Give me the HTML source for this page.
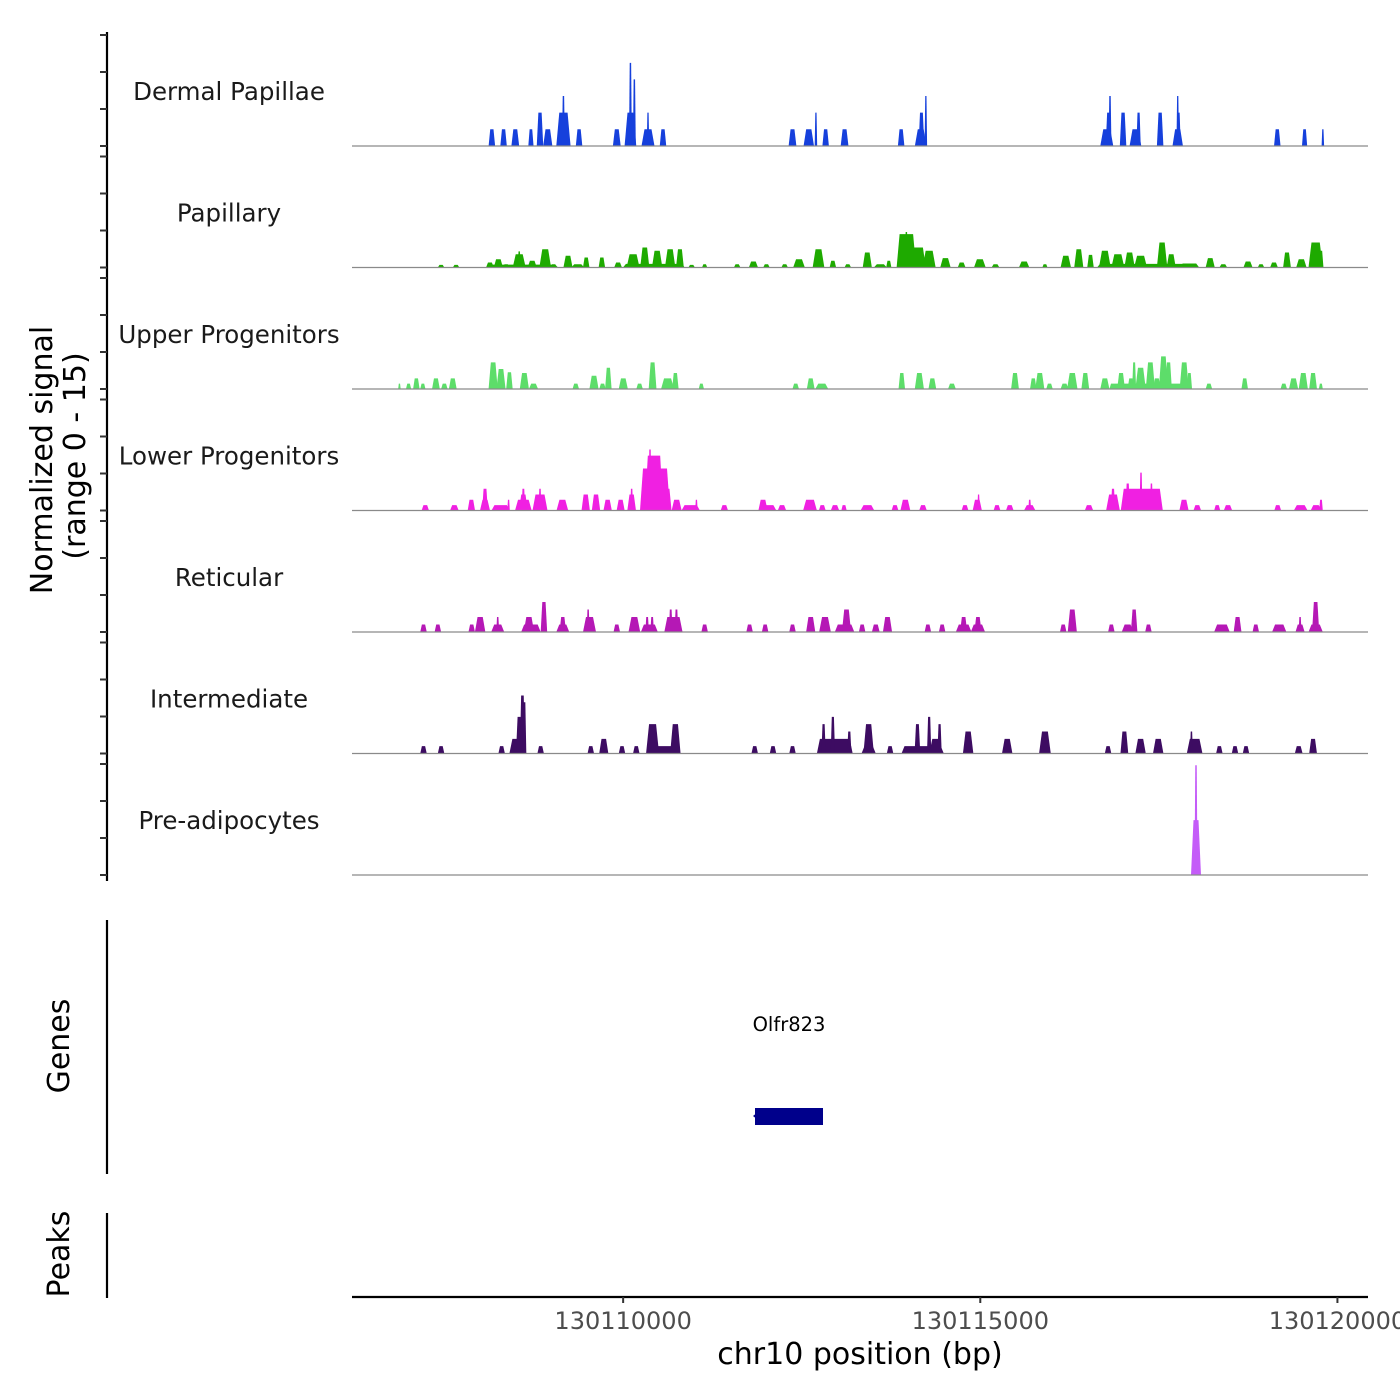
<!DOCTYPE html>
<html><head><meta charset="utf-8">
<style>
html,body{margin:0;padding:0;background:#fff;}
svg{display:block;font-family:"DejaVu Sans","Liberation Sans",sans-serif;}
</style></head>
<body>
<svg id="chart" width="1400" height="1400" viewBox="0 0 1400 1400" xmlns="http://www.w3.org/2000/svg">
<g id="tracks"></g>
<g id="axes">
  <line x1="107" y1="32" x2="107" y2="881" stroke="#000" stroke-width="2.2"/>
  <line x1="107" y1="920" x2="107" y2="1174" stroke="#000" stroke-width="2.2"/>
  <line x1="107" y1="1213" x2="107" y2="1298" stroke="#000" stroke-width="2.2"/>
  <line x1="352" y1="1297" x2="1368" y2="1297" stroke="#000" stroke-width="2.2"/>
  <text transform="translate(52,460) rotate(-90)" text-anchor="middle" font-size="30" fill="#000">Normalized signal</text>
  <text transform="translate(85,456) rotate(-90)" text-anchor="middle" font-size="30" fill="#000">(range 0 - 15)</text>
  <text transform="translate(69,1046) rotate(-90)" text-anchor="middle" font-size="30" fill="#000">Genes</text>
  <text transform="translate(69,1254) rotate(-90)" text-anchor="middle" font-size="30" fill="#000">Peaks</text>
  <text x="860" y="1364" text-anchor="middle" font-size="30" fill="#000">chr10 position (bp)</text>
</g>
<g id="genes"></g>
</svg>
<script>
const regionStart = 130106176;
const xTicks = [130110000, 130115000, 130120000];
const trackNames = ["Dermal Papillae","Papillary","Upper Progenitors","Lower Progenitors","Reticular","Intermediate","Pre-adipocytes"];
const trackColors = ["#1640dc","#1eaa00","#5ddd6a","#f020e2","#b518b5","#3d0c62","#c45cf8"];
// [offset bp from regionStart, width bp, signal]
const dermal = [[1986,91,2.07],[2150,91,2.07],[2314,109,2.07],[2533,73,2.07],[2660,91,4.13],[2769,128,2.07],[2988,200,4.13],[2988,40,6.2],[3207,91,2.07],[3735,109,2.07],[3926,164,4.13],[3926,40,10.3],[3981,40,8.26],[4172,182,2.07],[4172,30,4.13],[4382,91,2.07],[6195,109,2.07],[6423,146,2.07],[6523,30,4.13],[6659,91,2.07],[6924,109,2.07],[7716,91,2.07],[7990,164,2.07],[8000,80,4.13],[8062,30,6.2],[10595,182,2.07],[10620,80,4.13],[10640,40,6.2],[10823,91,4.13],[10996,164,2.07],[11040,60,4.13],[11342,91,4.13],[11588,146,2.07],[11600,60,4.13],[11588,30,6.2],[12982,91,2.07],[13364,73,2.07],[13620,18,2.07]];
const papillary = [[2414,1000,.35],[4254,865,.45],[11151,1385,.45],[1275,91,.33],[1485,91,.33],[1959,109,.62],[2077,128,1.03],[2186,91,.41],[2369,182,1.65],[2369,40,2.0],[2551,128,.83],[2733,164,2.27],[2851,91,.41],[3052,128,1.45],[3189,182,.41],[3307,91,1.24],[3526,91,1.24],[3753,109,.62],[3963,182,1.65],[4127,128,2.48],[4300,146,2.07],[4482,146,2.27],[4619,109,2.27],[4783,91,.33],[4965,73,.41],[5420,91,.41],[5648,128,.74],[5830,91,.41],[6085,91,.41],[6286,164,1.03],[6559,164,2.27],[6760,91,.83],[6969,91,.41],[7242,128,1.86],[7425,182,.41],[7543,73,.83],[7789,273,4.13],[7789,40,4.4],[7926,273,2.48],[8108,182,2.07],[8336,146,1.16],[8563,109,.62],[8818,164,1.03],[9037,109,.41],[9438,146,.74],[9729,73,.41],[10021,146,1.45],[10203,128,2.27],[10367,91,1.57],[10568,164,2.07],[10750,182,1.65],[10914,146,1.86],[11068,182,1.45],[11369,146,3.1],[11497,128,1.65],[11752,273,.5],[12043,128,1.16],[12226,109,.41],[12572,128,.74],[12754,91,.41],[12936,109,.62],[13118,109,1.86],[13319,146,1.03],[13519,200,3.1],[13592,73,2.07]];
const upperProg = [[11205,1093,.66],[692,18,.66],[820,73,.66],[929,91,1.32],[1020,73,.66],[1203,109,1.32],[1321,91,.66],[1439,109,1.32],[2004,128,3.3],[2114,128,2.48],[2232,91,2.07],[2441,128,1.98],[2569,128,.66],[3161,91,.66],[3416,128,1.65],[3535,91,.66],[3617,91,2.64],[3826,128,1.32],[4054,91,.66],[4236,109,3.3],[4446,182,1.32],[4555,91,1.98],[4919,73,.66],[6240,91,.66],[6450,109,1.32],[6605,182,.66],[7725,91,1.98],[7971,128,1.98],[8153,109,1.32],[8427,109,.66],[9310,109,1.98],[9566,91,1.32],[9657,128,1.98],[9793,91,.66],[10003,109,.66],[10112,146,1.98],[10294,109,1.98],[10568,128,1.32],[10677,91,.66],[10795,109,1.98],[10932,91,1.32],[10978,55,3.3],[11068,146,2.64],[11205,128,3.3],[11296,109,1.32],[11388,128,4.05],[11460,91,3.3],[11679,128,3.3],[11752,73,1.98],[12025,91,.66],[12526,91,1.32],[13073,91,.66],[13210,128,1.32],[13346,128,1.98],[13483,109,1.98],[13592,55,.66]];
const lowerProg = [[1054,103,.66],[1461,121,.66],[1699,103,1.33],[1890,140,1.33],[1890,80,2.69],[2109,257,.66],[2220,30,1.33],[2427,233,1.33],[2427,120,1.98],[2427,50,2.69],[2660,210,1.98],[2660,40,2.69],[2973,163,1.33],[3300,117,1.98],[3444,117,1.98],[3607,117,1.33],[3789,112,1.33],[3943,121,1.98],[3943,40,2.69],[4270,420,5.2],[4256,257,6.8],[4200,40,7.56],[4443,117,2.69],[4573,140,1.33],[4770,257,.66],[4850,30,1.33],[5241,103,.66],[5782,129,1.33],[5862,214,.66],[6048,118,.66],[6440,193,1.33],[6612,96,.66],[6790,118,.66],[6916,75,.66],[7244,193,.66],[7630,96,.66],[7775,139,1.33],[8022,107,.66],[8610,96,.66],[8782,129,1.33],[8800,30,1.98],[9058,96,.66],[9237,107,.66],[9516,161,.66],[9516,40,1.33],[10346,118,.66],[10682,193,1.98],[10682,60,2.69],[11085,589,2.69],[10888,60,3.35],[11074,40,4.7],[11220,40,3.35],[11676,129,1.33],[11862,107,.66],[12141,86,.66],[12292,118,.66],[12988,96,.66],[13310,193,.66],[13524,150,.66],[13594,50,1.33]];
const reticular = [[1029,91,.93],[1230,91,.93],[1704,91,.93],[1822,146,1.86],[2068,182,.93],[2068,40,1.86],[2533,273,.93],[2505,146,1.86],[2715,91,3.72],[2979,182,.93],[2979,91,1.86],[3353,182,1.86],[3334,40,2.79],[3735,91,.93],[3981,164,1.86],[4191,237,.93],[4160,50,1.86],[4230,50,1.86],[4528,255,1.86],[4490,50,2.79],[4570,50,2.79],[4965,91,.93],[5594,91,.93],[5812,91,.93],[6195,91,.93],[6450,128,1.86],[6650,164,1.86],[6924,273,.93],[6951,128,2.79],[7170,91,.93],[7361,109,.93],[7525,128,1.86],[8090,91,.93],[8290,91,.93],[8591,219,.93],[8591,100,1.86],[8791,200,.93],[8791,100,1.86],[9985,91,.93],[10112,128,2.79],[10659,91,.93],[10886,164,.93],[10978,91,2.79],[11178,91,.93],[12207,219,.93],[12426,109,1.86],[12681,91,.93],[13009,200,.93],[13301,128,.93],[13301,40,1.86],[13519,200,.93],[13519,100,3.72]];
const intermediate = [[1029,91,.91],[1275,91,.91],[2123,91,.91],[2350,237,1.82],[2369,91,4.54],[2414,73,7.19],[2441,55,6.36],[2669,91,.91],[3371,91,.91],[3553,128,1.82],[3808,91,.91],[4008,91,.91],[4391,364,.91],[4236,182,3.64],[4555,146,3.64],[5666,91,.91],[5922,91,.91],[6195,91,.91],[6787,501,1.82],[6630,60,3.64],[6760,60,4.54],[6990,60,2.73],[7261,146,3.64],[7261,200,.91],[7561,91,.91],[8017,592,.91],[7944,80,3.64],[8108,60,4.54],[8254,60,3.64],[8200,180,1.82],[8654,146,2.73],[9201,146,1.82],[9729,164,2.73],[10613,91,.91],[10841,109,2.73],[11068,146,1.82],[11315,146,1.82],[11825,219,1.82],[11780,40,2.73],[12171,91,.91],[12390,91,.91],[12544,91,.91],[13282,109,.91],[13483,109,1.82]];
const preAdipo = [[11844,140,6.8],[11844,42,13.6]];
const trackData = [dermal,papillary,upperProg,lowerProg,reticular,intermediate,preAdipo];
const geneName = ["Olfr823"];
const geneStart = [130111846];
const geneEnd = [130112798];

const NS = "http://www.w3.org/2000/svg";
const X0 = 352, X1 = 1368;
const bpPerPx = 14.0;
const xScale = bp => 350 + (bp - regionStart) / bpPerPx;
const firstBase = 146, trackStep = 121.5, pxPerUnit = 121 / 15;
const baseY = i => firstBase + i * trackStep;
const yScale = (i, v) => baseY(i) - v * pxPerUnit;

function mk(tag, attrs, parent) {
  const e = document.createElementNS(NS, tag);
  for (const k in attrs) e.setAttribute(k, attrs[k]);
  parent.appendChild(e);
  return e;
}
const tracks = document.getElementById('tracks');
const axes = document.getElementById('axes');
trackNames.forEach((name, i) => {
  const g = mk('g', {}, tracks);
  
  
  trackData[i].forEach(p => {
    const c = xScale(regionStart + p[0]);
    const w = Math.max(p[1] / bpPerPx, 2.5);
    const r = Math.min(w * 0.25, 3);
    const y = yScale(i, p[2]), b = baseY(i);
    const poly = mk('polygon', {
      points: `${c - w/2},${b} ${c - w/2 + r},${y} ${c + w/2 - r},${y} ${c + w/2},${b}`,
      fill: trackColors[i]
    }, g);
    
    
  });
  const bl = mk('line', {x1: X0, x2: X1, y1: baseY(i), y2: baseY(i), stroke: '#8a8a8a', 'stroke-width': 1.2}, g);
  
  
  const lab = mk('text', {x: 229, y: baseY(i) - 46, 'text-anchor': 'middle', 'font-size': 24.5, fill: '#1a1a1a'}, g);
  lab.textContent = name;
  
  
  for (let k = 0; k < 4; k++) {
    const ty = baseY(i) - k * 37;
    const t = mk('line', {x1: 100, x2: 107, y1: ty, y2: ty, stroke: '#333', 'stroke-width': 2}, axes);
    
    
  }
});
xTicks.forEach(v => {
  const x = xScale(v);
  const t = mk('line', {x1: x, x2: x, y1: 1297, y2: 1303, stroke: '#333', 'stroke-width': 2}, axes);
  
  
  const l = mk('text', {x: x, y: 1329, 'text-anchor': 'middle', 'font-size': 24, fill: '#4d4d4d'}, axes);
  l.textContent = v;
  
  
});
const genes = document.getElementById('genes');
geneName.forEach((n, i) => {
  const xs = xScale(geneStart[i]), xe = xScale(geneEnd[i]);
  const r = mk('rect', {x: xs, y: 1108, width: xe - xs, height: 17, fill: '#00008b'}, genes);
  
  
  const a = mk('polygon', {points: `${xs - 2},1116 ${xs + 3},1112 ${xs + 3},1120`, fill: '#00008b'}, genes);
  
  
  const t = mk('text', {x: (xs + xe) / 2, y: 1031, 'text-anchor': 'middle', 'font-size': 19.5, fill: '#000'}, genes);
  t.textContent = n;
  
  
});
</script>
</body></html>
